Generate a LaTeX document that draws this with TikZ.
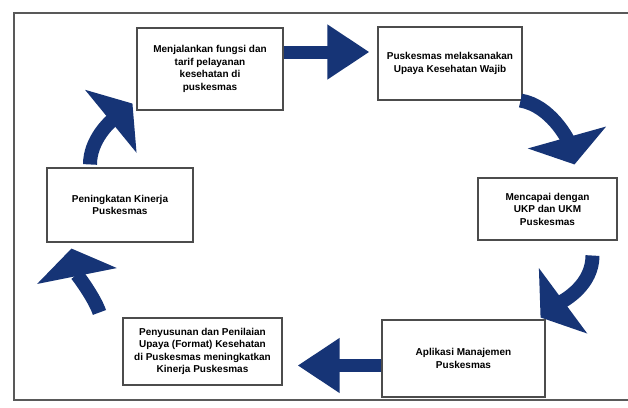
\documentclass[tikz,border=0pt]{standalone}
\usepackage{fontspec}
\setmainfont{Liberation Sans}
\usetikzlibrary{arrows.meta}
\definecolor{panah}{RGB}{22,52,118}

\begin{document}
\begin{tikzpicture}[x=1pt,y=-1pt,
  box/.style={draw=black!70,line width=1.1pt,fill=white,align=center,inner sep=2pt,
    font=\bfseries\fontsize{10}{12.5}\selectfont},
  flow/.style={draw=panah,line width=13pt,-{Triangle[length=42pt,width=52pt]}},
  bent/.style={draw=panah,line width=14pt,-{Triangle[length=28pt,width=80pt]}}]
\useasboundingbox (0,0) rectangle (628,407);
\fill[white] (0,0) rectangle (628,407);
\draw[black!65,line width=1.6pt] (628,13) -| (14,400) -- (628,400);
\node[box,minimum width=146pt,minimum height=82pt] (b1) at (210,69)
  {Menjalankan fungsi dan\\tarif pelayanan\\kesehatan di\\puskesmas};
\node[box,minimum width=144pt,minimum height=73pt] (b2) at (450,63.5)
  {Puskesmas melaksanakan\\Upaya Kesehatan Wajib};
\node[box,minimum width=139pt,minimum height=62pt] (b3) at (547.5,209)
  {Mencapai dengan\\UKP dan UKM\\Puskesmas};
\node[box,minimum width=146pt,minimum height=74pt] (b4) at (120,205)
  {Peningkatan Kinerja\\Puskesmas};
\node[box,minimum width=159pt,minimum height=67pt] (b5) at (202.5,351.5)
  {Penyusunan dan Penilaian\\Upaya (Format) Kesehatan\\di Puskesmas meningkatkan\\Kinerja Puskesmas};
\node[box,minimum width=163pt,minimum height=77pt] (b6) at (463.5,358.5)
  {Aplikasi Manajemen\\Puskesmas};
\draw[flow,shorten >=8pt] ([yshift=17pt]b1.east) -- ([yshift=17pt]b1.east -| b2.west);
\draw[bent] ([xshift=-2pt]b2.south east) .. controls +(30,5) and +(-7,-25) .. ([shift={(27,-13)}]b3.north);
\draw[bent] ([shift={(45,15)}]b3.south) .. controls +(0,30) and +(23,-17) .. ([shift={(-5,-2)}]b6.north east);
\draw[flow,shorten >=15pt] ([yshift=-7pt]b6.west) -- ([yshift=-7pt]b6.west -| b5.east);
\draw[bent] ([shift={(-23,-5)}]b5.north west) .. controls +(-5,-15) and +(5,25) .. ([shift={(25,6)}]b4.south west);
\draw[bent] ([shift={(-30,-3)}]b4.north) .. controls +(0,-25) and +(-22,18) .. ([shift={(-4,-7)}]b1.south west);
\end{tikzpicture}
\end{document}
